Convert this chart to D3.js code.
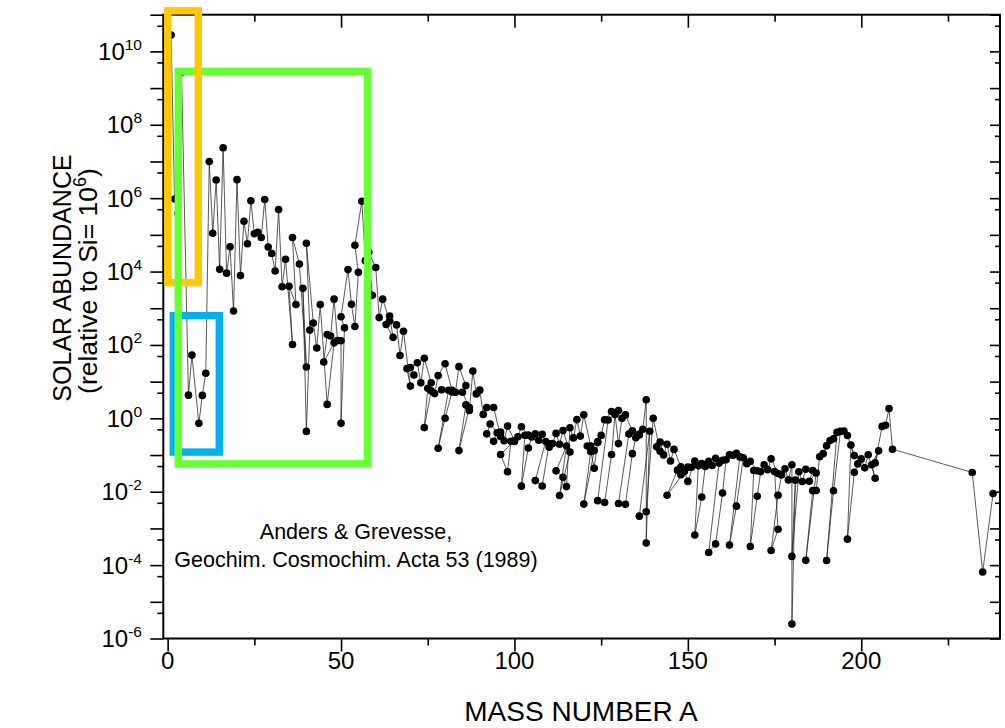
<!DOCTYPE html>
<html><head><meta charset="utf-8">
<script src="https://cdn.jsdelivr.net/npm/d3@7"></script>
<style>
body{margin:0;background:#fff}
svg{display:block}
text{font-family:"Liberation Sans",Arial,Helvetica,sans-serif;fill:#000}
</style>
</head><body>
<svg id="chart" width="1005" height="728"></svg>
<script>
// Isotopic solar abundances (Anders & Grevesse 1989), listed element by element (Z order)
const massNumber = [
 1,2, 3,4, 6,7, 9, 10,11, 12,13, 14,15, 16,17,18, 19, 20,21,22, 23, 24,25,26, 27, 28,29,30, 31,
 32,33,34,36, 35,37, 36,38,40, 39,40,41, 40,42,43,44,46,48, 45, 46,47,48,49,50, 50,51, 50,52,53,54, 55,
 54,56,57,58, 59, 58,60,61,62,64, 63,65, 64,66,67,68,70, 69,71, 70,72,73,74,76, 75, 74,76,77,78,80,82,
 79,81, 78,80,82,83,84,86, 85,87, 84,86,87,88, 89, 90,91,92,94,96, 93, 92,94,95,96,97,98,100,
 96,98,99,100,101,102,104, 103, 102,104,105,106,108,110, 107,109, 106,108,110,111,112,113,114,116,
 113,115, 112,114,115,116,117,118,119,120,122,124, 121,123, 120,122,123,124,125,126,128,130, 127,
 124,126,128,129,130,131,132,134,136, 133, 130,132,134,135,136,137,138, 138,139, 136,138,140,142, 141,
 142,143,144,145,146,148,150, 144,147,148,149,150,152,154, 151,153, 152,154,155,156,157,158,160, 159,
 156,158,160,161,162,163,164, 165, 162,164,166,167,168,170, 169, 168,170,171,172,173,174,176, 175,176,
 174,176,177,178,179,180, 180,181, 180,182,183,184,186, 185,187, 184,186,187,188,189,190,192, 191,193,
 190,192,194,195,196,198, 197, 196,198,199,200,201,202,204, 203,205, 204,206,207,208, 209, 232, 235,238
];
const abundance = [
 2.79e10,9.49e5, 3.86e5,2.72e9, 4.28,52.8, 0.73, 4.22,17.0, 9.99e6,1.11e5, 3.12e6,1.15e4,
 2.37e7,9.04e3,4.76e4, 843, 3.20e6,7.77e3,2.34e5, 5.74e4, 8.48e5,1.07e5,1.18e5, 8.49e4,
 9.22e5,4.67e4,3.10e4, 1.04e4,
 4.89e5,3.86e3,2.17e4,103, 3.97e3,1.27e3, 8.5e4,1.6e4,25, 3.52e3,0.44,254,
 5.92e4,395,82.5,1.27e3,2.4,114, 34.2, 192,175,1.77e3,132,130, 0.73,292, 587,1.13e4,1.28e3,319, 9550,
 5.22e4,8.25e5,1.98e4,2.52e3, 2250, 3.37e4,1.29e4,557,1.77e3,449, 361,161, 612,352,51.7,237,7.56,
 22.7,15.1, 24.4,32.6,9.28,43.4,9.28, 6.56, 0.56,5.59,4.72,14.6,30.8,5.84,
 5.98,5.82, 0.153,1.01,5.2,5.16,25.6,7.8, 5.12,1.97, 0.132,2.32,1.64,19.4, 4.64,
 5.87,1.28,1.96,1.98,0.319, 0.698, 0.378,0.236,0.406,0.425,0.244,0.615,0.246,
 0.103,0.035,0.236,0.234,0.316,0.588,0.348, 0.344, 0.0142,0.155,0.310,0.380,0.368,0.163, 0.252,0.234,
 0.0201,0.0143,0.201,0.206,0.388,0.197,0.463,0.121,
 0.0079,0.176, 0.037,0.0248,0.0138,0.555,0.293,0.925,0.328,1.245,0.177,0.221, 0.177,0.132,
 0.0046,0.125,0.0437,0.232,0.343,0.912,1.524,1.626, 0.90,
 0.00571,0.00509,0.103,1.28,0.205,1.00,1.24,0.455,0.375, 0.372,
 0.00476,0.00453,0.109,0.296,0.353,0.504,3.22, 0.000401,0.4456, 0.00216,0.00284,1.005,0.126, 0.1669,
 0.2246,0.1008,0.197,0.0687,0.1423,0.0477,0.0467, 0.008,0.0387,0.0292,0.0356,0.0191,0.0689,0.0586,
 0.0465,0.0508, 0.00066,0.00719,0.0488,0.0676,0.0516,0.0820,0.0721, 0.0603,
 0.000221,0.000378,0.00922,0.0743,0.101,0.0982,0.111, 0.0889,
 0.000351,0.00404,0.0843,0.0576,0.0672,0.0374, 0.0378,
 0.000322,0.00756,0.0354,0.0543,0.040,0.0788,0.0315, 0.0357,0.00095,
 0.00025,0.00802,0.0287,0.042,0.021,0.0541, 2.48e-6,0.0207, 0.000173,0.035,0.019,0.0408,0.038,
 0.0193,0.0324, 0.000135,0.0107,0.0108,0.0898,0.109,0.178,0.277, 0.247,0.414,
 0.000134,0.0106,0.441,0.453,0.339,0.0965, 0.187,
 0.00051,0.0339,0.0574,0.0785,0.0448,0.102,0.0234, 0.0543,0.13, 0.0611,0.602,0.65,1.84, 0.144,
 0.0335, 6.48e-5,0.00893
];

const xMajorTicks = [0, 50, 100, 150, 200];
const xMinorTicks = [25, 75, 125, 175, 225];
const yDecadeExponents = d3.range(-6, 12);      // major ticks 10^-6 .. 10^11
const yLabelExponents = [-6, -4, -2, 0, 2, 4, 6, 8, 10];
const yMinorTicks = d3.range(-6, 11).map(e => 5 * Math.pow(10, e));

// highlight boxes, in data units: [A from, A to, abundance top, abundance bottom]
const boxOrange = [0.05, 8.84, Math.pow(10, 11.106), Math.pow(10, 3.70)];
const boxBlue   = [1.63, 14.9, Math.pow(10, 2.80), Math.pow(10, -0.92)];
const boxGreen  = [3.07, 57.6, Math.pow(10, 9.457), Math.pow(10, -1.24)];

const svg = d3.select('#chart');
const L = 163.3, R = 1000, T = 14.7, B = 638.5;
const x = d3.scaleLinear().domain([-1.25, 240]).range([L, R]);
const y = d3.scaleLog().domain([1e-6, 1e11]).range([B, T]);

// data line + points
const pts = massNumber.map((a, i) => [a, abundance[i]]);
svg.append('path')
  .attr('d', d3.line().x(d => x(d[0])).y(d => y(d[1]))(pts))
  .attr('fill', 'none').attr('stroke', '#222').attr('stroke-width', 0.75);
svg.append('g').selectAll('circle').data(pts).join('circle')
  .attr('cx', d => x(d[0])).attr('cy', d => y(d[1])).attr('r', 3.8).attr('fill', '#000');

// axes frame
const ax = svg.append('g').attr('stroke', '#000').attr('fill', 'none');
ax.append('rect').attr('x', L).attr('y', T).attr('width', R - L).attr('height', B - T).attr('stroke-width', 2);

// x ticks bottom (outward) and top (inward)
const xb = d3.axisBottom(x).tickValues(xMajorTicks).tickSize(13).tickFormat('');
const xbMin = d3.axisBottom(x).tickValues(xMinorTicks).tickSize(7).tickFormat('');
const xt = d3.axisTop(x).tickValues(xMajorTicks).tickSize(-13).tickFormat('');
const xtMin = d3.axisTop(x).tickValues(xMinorTicks).tickSize(-7).tickFormat('');
[[xb, B], [xbMin, B], [xt, T], [xtMin, T]].forEach(([a, pos]) => {
  const g = svg.append('g').attr('transform', `translate(0,${pos})`).call(a);
  g.select('.domain').remove();
  g.selectAll('line').attr('stroke', '#000').attr('stroke-width', 1.6);
});
// y ticks left (outward) and right (inward)
const yMajorVals = yDecadeExponents.map(e => Math.pow(10, e));
const yl = d3.axisLeft(y).tickValues(yMajorVals).tickSize(13).tickFormat('');
const ylMin = d3.axisLeft(y).tickValues(yMinorTicks).tickSize(6).tickFormat('');
const yr = d3.axisRight(y).tickValues(yMajorVals).tickSize(-10).tickFormat('');
const yrMin = d3.axisRight(y).tickValues(yMinorTicks).tickSize(-5).tickFormat('');
[[yl, L], [ylMin, L], [yr, R], [yrMin, R]].forEach(([a, pos]) => {
  const g = svg.append('g').attr('transform', `translate(${pos},0)`).call(a);
  g.select('.domain').remove();
  g.selectAll('line').attr('stroke', '#000').attr('stroke-width', 1.6);
});

// x tick labels
svg.append('g').selectAll('text').data(xMajorTicks).join('text')
  .attr('x', d => x(d)).attr('y', 669).attr('text-anchor', 'middle')
  .style('font-size', '24px').text(d => d);

// y tick labels 10^n
const yl2 = svg.append('g').selectAll('text').data(yLabelExponents).join('text')
  .attr('x', 142).attr('y', d => y(Math.pow(10, d)) + 8.5).attr('text-anchor', 'end')
  .style('font-size', '24px');
yl2.append('tspan').text('10');
yl2.append('tspan').attr('dy', -10).style('font-size', '15.5px').text(d => d);

// axis titles
svg.append('text').attr('x', 581).attr('y', 721).attr('text-anchor', 'middle')
  .style('font-size', '28px').text('MASS NUMBER A');
svg.append('text').attr('transform', 'translate(71,278) rotate(-90)').attr('text-anchor', 'middle')
  .style('font-size', '25px').text('SOLAR ABUNDANCE');
const sub = svg.append('text').attr('transform', 'translate(97,281) rotate(-90)').attr('text-anchor', 'middle')
  .style('font-size', '26.5px');
sub.append('tspan').text('(relative to Si= 10');
sub.append('tspan').attr('dy', -11).style('font-size', '18px').text('6');
sub.append('tspan').attr('dy', 11).text(')');

// reference note
svg.append('text').attr('x', 356).attr('y', 539).attr('text-anchor', 'middle')
  .style('font-size', '21.5px').text('Anders & Grevesse,');
svg.append('text').attr('x', 356).attr('y', 567).attr('text-anchor', 'middle')
  .style('font-size', '21.5px').text('Geochim. Cosmochim. Acta 53 (1989)');

// highlight boxes
function box(b, color) {
  svg.append('rect')
    .attr('x', x(b[0])).attr('y', y(b[2]))
    .attr('width', x(b[1]) - x(b[0])).attr('height', y(b[3]) - y(b[2]))
    .attr('fill', 'none').attr('stroke', color).attr('stroke-width', 7.4);
}
box(boxBlue, '#00B0F0');
box(boxOrange, '#FFC800');
box(boxGreen, '#66FF33');
// orange right edge passes over the green top edge
svg.append('line')
  .attr('x1', x(boxOrange[1])).attr('x2', x(boxOrange[1]))
  .attr('y1', y(boxGreen[2]) - 4).attr('y2', y(boxGreen[2]) + 4)
  .attr('stroke', '#FFC800').attr('stroke-width', 7.4);
</script>
</body></html>
